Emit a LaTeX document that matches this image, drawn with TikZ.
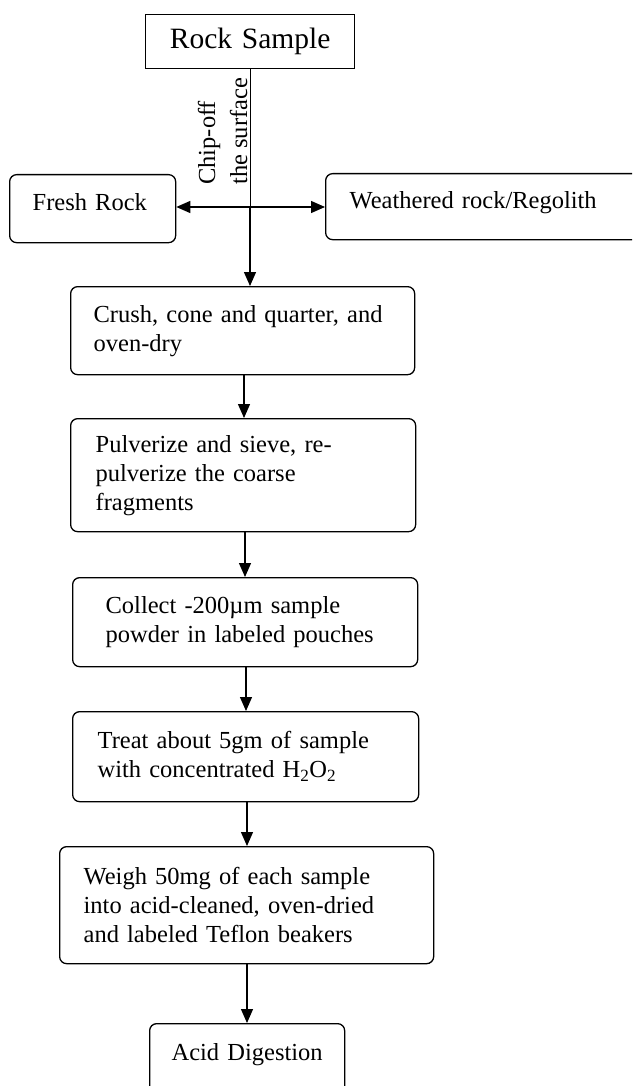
\documentclass[tikz,border=0pt]{standalone}
\usepackage{fontspec}
\setmainfont{Liberation Serif}
\usetikzlibrary{arrows.meta}
\begin{document}
\begin{tikzpicture}[x=1pt,y=-1pt,
  body/.style={font=\fontsize{24.5}{29}\selectfont},
  stepbox/.style={draw, line width=1.3pt, rounded corners=7pt, anchor=north west, align=left, body, inner ysep=0pt},
  topbox/.style={draw, line width=1.3pt, anchor=north west, align=center, font=\fontsize{29.5}{34}\selectfont, inner ysep=0pt},
  rotlabel/.style={body, rotate=90, anchor=base west, inner sep=0pt},
  arr/.style={line width=1.3pt, -{Triangle[length=14pt,width=12pt]}},
  thinline/.style={line width=0.9pt}
]
\useasboundingbox (0,0) rectangle (632,1086);
\clip (0,0) rectangle (632,1086);

\node[topbox, inner xsep=10pt, text width=189pt, minimum height=54pt] (rock) at (145,14) {Rock Sample};

\node[stepbox, inner xsep=23pt, text width=120pt, minimum height=68pt, text depth=12.5pt] (fresh) at (9,174) {Fresh Rock};
\node[stepbox, inner xsep=24pt, text width=272pt, minimum height=66pt, text depth=14pt] (weath) at (325,173) {Weathered rock/Regolith};

\node[rotlabel] (chip1) at (215,185) {Chip-off};
\node[rotlabel] (chip2) at (247,185) {the surface};

\node[stepbox, inner xsep=23pt, text width=298pt, minimum height=88pt] (crush) at (70,286) {Crush, cone and quarter, and\\oven-dry};
\node[stepbox, inner xsep=25pt, text width=295pt, minimum height=113pt] (pulv) at (70,418) {Pulverize and sieve, re-\\pulverize the coarse\\fragments};
\node[stepbox, inner xsep=33pt, text width=279pt, minimum height=89pt] (coll) at (72,577) {Collect -200µm sample\\powder in labeled pouches};
\node[stepbox, inner xsep=25pt, text width=296pt, minimum height=90pt] (treat) at (72,711) {Treat about 5gm of sample\\with concentrated H\textsubscript{2}O\textsubscript{2}};
\node[stepbox, inner xsep=24pt, text width=326pt, minimum height=117pt] (weigh) at (59,846) {Weigh 50mg of each sample\\into acid-cleaned, oven-dried\\and labeled Teflon beakers};
\node[stepbox, align=center, inner xsep=10pt, text width=175pt, minimum height=70pt, text depth=14pt] (acid) at (149,1023) {Acid Digestion};

\coordinate (j) at (250,207);
\coordinate (a1) at (244,0);
\coordinate (a2) at (245,0);
\coordinate (a3) at (246,0);
\coordinate (a4) at (247,0);
\coordinate (a5) at (247,0);

\draw[thinline] (rock.south -| j) -- (j);
\draw[arr] (j) -- (crush.north -| j);
\draw[arr] (j) -- (fresh.east |- j);
\draw[arr] (j) -- (weath.west |- j);

\draw[arr] (crush.south -| a1) -- (pulv.north -| a1);
\draw[arr] (pulv.south -| a2) -- (coll.north -| a2);
\draw[arr] (coll.south -| a3) -- (treat.north -| a3);
\draw[arr] (treat.south -| a4) -- (weigh.north -| a4);
\draw[arr] (weigh.south -| a5) -- (acid.north -| a5);
\end{tikzpicture}
\end{document}
